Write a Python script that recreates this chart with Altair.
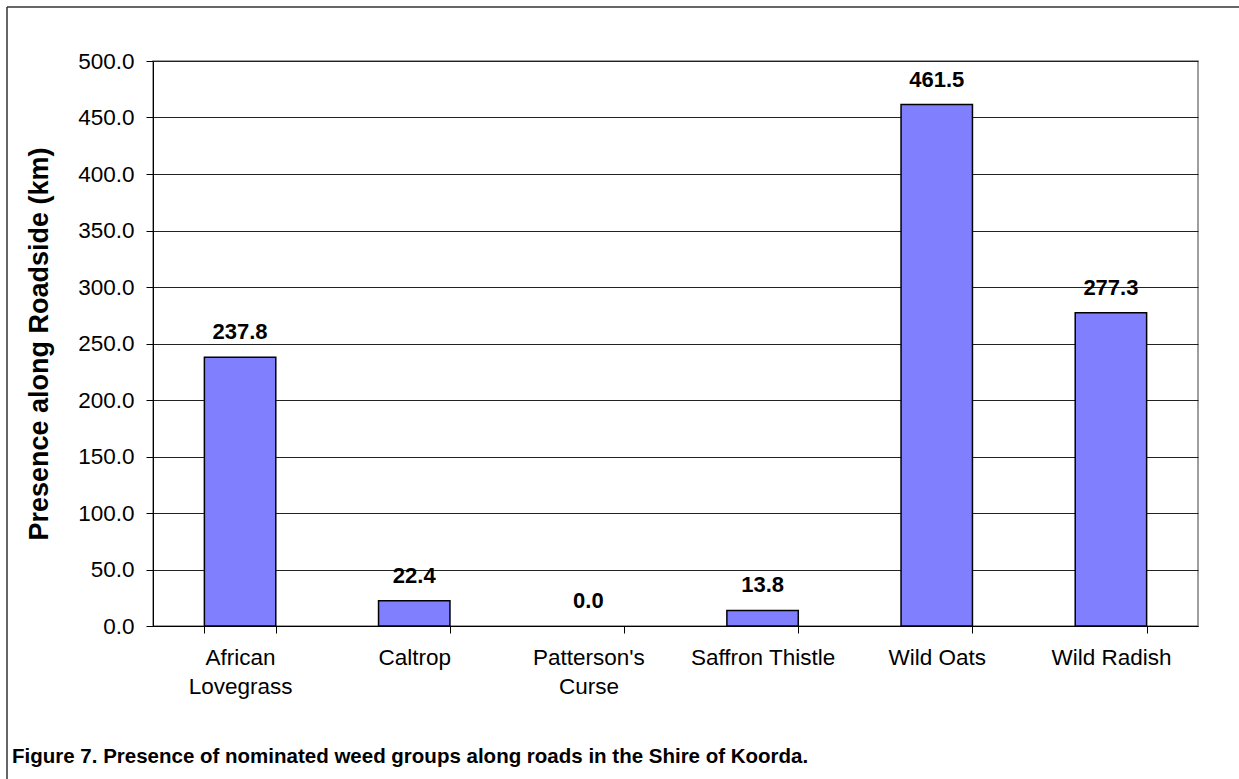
import altair as alt
import pandas as pd

categories = ["African Lovegrass", "Caltrop", "Patterson's Curse",
              "Saffron Thistle", "Wild Oats", "Wild Radish"]
values = [237.8, 22.4, 0.0, 13.8, 461.5, 277.3]
y_ticks = [0, 50, 100, 150, 200, 250, 300, 350, 400, 450, 500]
y_title = "Presence along Roadside (km)"
caption = "Figure 7. Presence of nominated weed groups along roads in the Shire of Koorda."

df = pd.DataFrame({"category": categories, "value": values})

FONT = "Liberation Sans"
W, H = 1045, 565
LEFT, TOP = 153, 61

x = alt.X("category:N", sort=categories, title=None,
          scale=alt.Scale(paddingInner=0.59, paddingOuter=0.295),
          axis=alt.Axis(labelAngle=0, tickBand="extent", tickSize=7,
                        tickColor="#000", domainColor="#000",
                        labelFont=FONT, labelFontSize=22.5, labelColor="#000",
                        labelPadding=13, labelLineHeight=29,
                        labelExpr="datum.value == 'African Lovegrass' ? ['African', 'Lovegrass'] : datum.value == \"Patterson's Curse\" ? [\"Patterson's\", 'Curse'] : datum.value"))
y = alt.Y("value:Q", title=y_title,
          scale=alt.Scale(domain=[0, 500], nice=False),
          axis=alt.Axis(values=y_ticks, format=".1f", tickSize=7,
                        tickColor="#000", domainColor="#000",
                        gridColor="#222", gridWidth=1,
                        labelFont=FONT, labelFontSize=22.5, labelColor="#000",
                        labelPadding=12,
                        titleFont=FONT, titleFontSize=27, titleFontWeight="bold",
                        titleColor="#000", titlePadding=24))

bars = alt.Chart(df).mark_bar(color="#8080FF", stroke="#000").encode(
    x=x, y=y,
    strokeWidth=alt.condition("datum.value == 0", alt.value(0), alt.value(1.5)))
labels = alt.Chart(df).mark_text(font=FONT, fontSize=22, fontWeight="bold",
                                 baseline="alphabetic", dy=-18, color="#000").encode(
    x=alt.X("category:N", sort=categories),
    y="value:Q",
    text=alt.Text("value:Q", format=".1f"))

one = alt.Data(values=[{}])
frame_left = alt.Chart(one).mark_rule(color="#333", strokeWidth=1.5).encode(
    x=alt.value(7 - LEFT), y=alt.value(7 - TOP), y2=alt.value(779 - TOP))
frame_top = alt.Chart(one).mark_rule(color="#333", strokeWidth=1.5).encode(
    x=alt.value(7 - LEFT), x2=alt.value(1239 - LEFT), y=alt.value(7 - TOP))
cap = alt.Chart(one).mark_text(font=FONT, fontSize=20.5, fontWeight="bold", align="left",
                               baseline="alphabetic", color="#000").encode(
    x=alt.value(12 - LEFT), y=alt.value(763 - TOP), text=alt.value(caption))

chart = alt.layer(bars, labels, frame_left, frame_top, cap).properties(
    width=W, height=H,
    autosize=alt.AutoSizeParams(type="none"),
    padding={"left": LEFT, "top": TOP, "right": 1239 - LEFT - W, "bottom": 779 - TOP - H},
    background="white",
).configure_view(stroke="#808080", strokeWidth=1.5)

chart.save("out.html", embed_options={"renderer": "svg", "actions": False})
